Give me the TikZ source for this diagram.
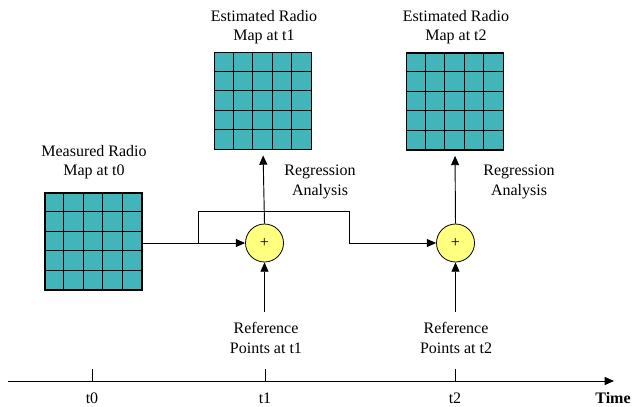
\documentclass[tikz,border=0pt]{standalone}
\usepackage{fontspec}
\setmainfont{Liberation Serif}
\usetikzlibrary{arrows.meta,calc}
\definecolor{mapteal}{RGB}{66,181,186}
\definecolor{sumyellow}{RGB}{255,255,128}
\begin{document}
\begin{tikzpicture}[x=0.75pt,y=-0.75pt,
  mapgrid/.style={draw=black, fill=mapteal, minimum width=72.75pt, minimum height=72.75pt, inner sep=0pt, line width=0.8pt},
  sumnode/.style={circle, draw=black, fill=sumyellow, minimum size=28.5pt, inner sep=0pt, line width=0.6pt, font=\fontsize{12}{14.5}\selectfont},
  lbl/.style={align=center, inner sep=0pt, font=\fontsize{12}{14.5}\selectfont},
  arr/.style={-{Triangle[length=7pt,width=6pt]}, line width=0.7pt},
  plain/.style={line width=0.7pt}
]
\useasboundingbox (0,0) rectangle (632,407);

% maps
\node[mapgrid] (m0) at (93.5,241.5) {};
\node[mapgrid] (e1) at (263,101) {};
\node[mapgrid] (e2) at (455,101.5) {};
\foreach \g in {m0,e1,e2}{
  \foreach \i in {1,...,4}{
    \draw[line width=0.8pt] ($(\g.north west)+(\i*19.4,0)$) -- ($(\g.south west)+(\i*19.4,0)$);
    \draw[line width=0.8pt] ($(\g.north west)+(0,\i*19.4)$) -- ($(\g.north east)+(0,\i*19.4)$);
  }
}

% labels
\node[lbl] (lm0) at (94,162) {Measured Radio\\Map at t0};
\node[lbl] (le1) at (264,27) {Estimated Radio\\Map at t1};
\node[lbl] (le2) at (456,27) {Estimated Radio\\Map at t2};
\node[lbl] (rg1) at (320,182) {Regression\\Analysis};
\node[lbl] (rg2) at (519,182) {Regression\\Analysis};
\node[lbl] (rp1) at (266,338) {Reference\\Points at t1};
\node[lbl] (rp2) at (456,338) {Reference\\Points at t2};

% summing nodes
\node[sumnode] (s1) at (264.5,243) {+};
\node[sumnode] (s2) at (455.5,243) {+};

% connectors
\coordinate (b1) at (198,243);
\coordinate (b2) at (198,211);
\coordinate (b3) at (349,211);
\coordinate (b4) at (349,243);
\draw[arr] (m0.east |- s1) -- (s1.west);
\draw[plain] (b1) -- (b2) -- (b3) -- (b4);
\draw[arr] (b4) -- (s2.west);
\draw[arr, shorten >=4pt] (s1.north) -- (e1.south);
\draw[arr, shorten >=4pt] (s2.north) -- (e2.south);
\coordinate (u1) at (264.5,312);
\coordinate (u2) at (455.5,312);
\draw[arr] (u1) -- (s1.south);
\draw[arr] (u2) -- (s2.south);

% time axis
\coordinate (ax0) at (8,381);
\coordinate (ax1) at (614,381);
\draw[arr] (ax0) -- (ax1);
\foreach \x/\n in {92/t0,265/t1,455/t2}{
  \draw[plain] (\x,369) -- (\x,381);
  \node[lbl] (lab\n) at (\x,398) {\n};
}
\node[lbl, font=\fontsize{12}{14.5}\selectfont\bfseries] (time) at (613,398) {Time};
\end{tikzpicture}
\end{document}
